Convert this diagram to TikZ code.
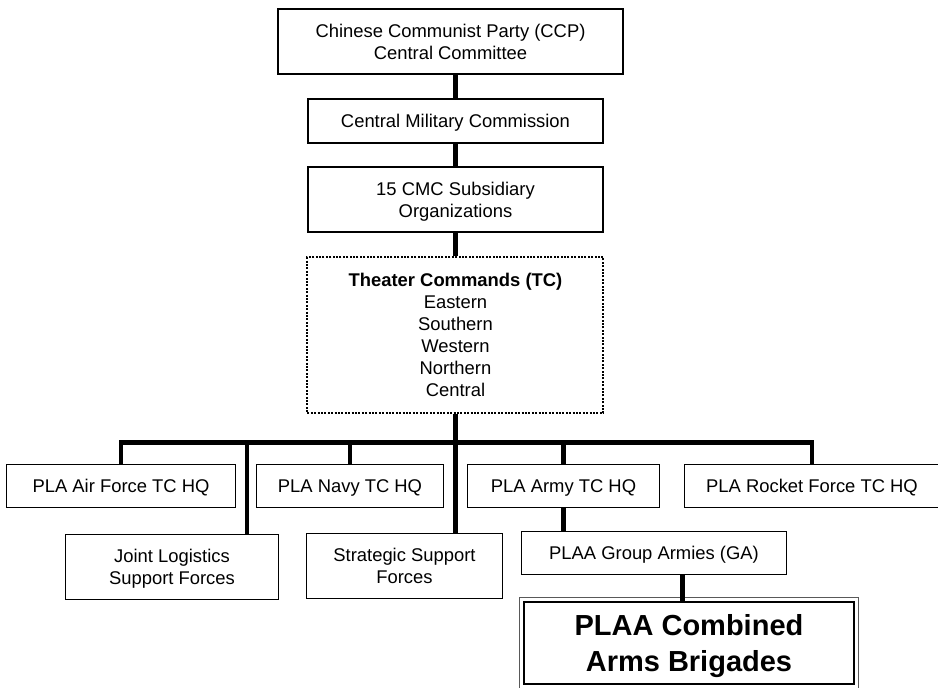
\documentclass[tikz,border=0pt]{standalone}
\usepackage{fontspec}
\setmainfont{Liberation Sans}
\usetikzlibrary{positioning}

\begin{document}
\begin{tikzpicture}[
        node distance=23.6pt and 22pt,
        every node/.style={draw, line width=1.4pt, align=center, inner sep=2pt, text depth=0pt,
            font=\fontsize{18.4pt}{22pt}\selectfont, minimum height=43pt},
        link/.style={line width=4.5pt},
        tall/.style={minimum height=65pt},
        theater/.style={draw, dash pattern=on 2pt off 1.4pt, line width=2pt,
            minimum width=296pt, minimum height=156pt},
        brigade/.style={line width=2pt, minimum width=329pt, minimum height=82pt,
            font=\fontsize{29pt}{36pt}\selectfont\bfseries}
    ]

    \useasboundingbox (-450.5pt,41.5pt) rectangle (487.5pt,-646.5pt);

    % Nodes
    \node (ccp) [tall, minimum width=345pt] {Chinese Communist Party (CCP)\\
        Central Committee};

    \node (cmc) [below=of ccp, xshift=5pt, minimum width=295pt, minimum height=44pt] {Central Military Commission};

    \node (cmcsub) [below=22.6pt of cmc, tall, minimum width=295pt] {15 CMC Subsidiary\\
        Organizations};

    \node (tc) [below=23.5pt of cmcsub, theater] {\textbf{Theater Commands (TC)}\\
        Eastern\\
        Southern\\
        Western\\
        Northern\\
        Central};

    \coordinate [below=28.2pt of tc] (bus);

    \node (army) [below=49.5pt of tc, xshift=108pt, minimum width=192pt] {PLA Army TC HQ};
    \node (navy) [left=22.6pt of army, minimum width=187pt] {PLA Navy TC HQ};
    \node (air) [left=19.6pt of navy, minimum width=229pt] {PLA Air Force TC HQ};
    \node (rocket) [right=23.6pt of army, minimum width=255pt] {PLA Rocket Force TC HQ};

    \node (jlsf) [below=25.6pt of air, xshift=51pt, tall, minimum width=213pt] {Joint Logistics\\
        Support Forces};
    \node (ssf) [below=24.6pt of navy, xshift=54.5pt, tall, minimum width=196pt] {Strategic Support\\
        Forces};

    \node (ga) [below=22.6pt of army, xshift=90.5pt, minimum width=265pt] {PLAA Group Armies (GA)};
    \node (cab) [below=26.3pt of ga, xshift=35pt, brigade] {PLAA Combined\\
        Arms Brigades};
    \draw[line width=1pt, black!65] ([shift={(-3.5pt,3.5pt)}]cab.north west) rectangle ([shift={(3.5pt,-3.5pt)}]cab.south east);

    % Edges
    \coordinate (jdrop) at ([xshift=-32pt]jlsf.north east);
    \coordinate (gdrop) at ([xshift=28.5pt]ga.south);

    \draw[link] (cmc.north) -- (cmc.north |- ccp.south);
    \draw[link] (cmc) -- (cmcsub);
    \draw[link] (cmcsub) -- (tc);
    \draw[link] (tc.south) -- (tc.south |- ssf.north);
    \draw[link] (air.north) |- (bus) -| (rocket.north);
    \draw[link] (navy.north) -- (navy.north |- bus);
    \draw[link] (army.north) -- (army.north |- bus);
    \draw[link] (jdrop) -- (jdrop |- bus);
    \draw[link] (army.south) -- (army.south |- ga.north);
    \draw[link] (gdrop) -- (gdrop |- cab.north);

\end{tikzpicture}
\end{document}
